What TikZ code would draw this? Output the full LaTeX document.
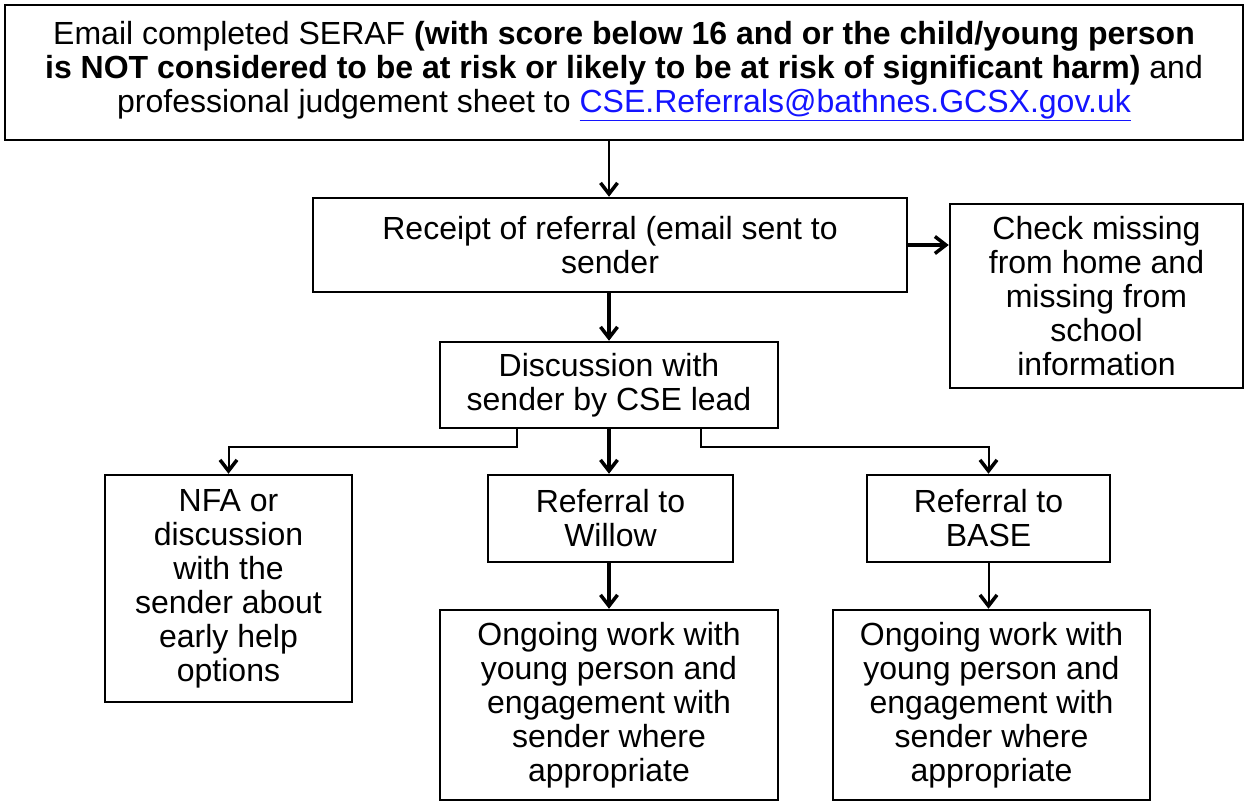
\documentclass[tikz,border=0pt]{standalone}
\usepackage{fontspec}
\setmainfont{Liberation Sans}
\usetikzlibrary{arrows.meta,calc}
\definecolor{linkblue}{RGB}{20,20,255}
\begin{document}
\begin{tikzpicture}[x=1pt,y=-1pt,
  box/.style={draw=black,line width=2.5pt,rectangle,align=center,inner sep=0pt,
    font=\fontsize{32}{34}\selectfont},
  thin/.style={line width=2pt,-{Straight Barb[length=11pt,width=17pt,line width=3.5pt]}},
  thick/.style={line width=4pt,-{Straight Barb[length=11pt,width=17pt,line width=3.5pt]}}]
\useasboundingbox (0,0) rectangle (1247,801);
\fill[white] (0,0) rectangle (1247,801);

\node[box,minimum width=1238pt,minimum height=135pt] (top) at (624,72.5)
 {Email completed SERAF \textbf{(with score below 16 and or the child/young person}\\
  \textbf{is NOT considered to be at risk or likely to be at risk of significant harm)} and\\
  professional judgement sheet to {\color{linkblue}\underline{CSE.Referrals@bathnes.GCSX.gov.uk}}\rule[-12pt]{0pt}{12pt}};

\node[box,minimum width=594pt,minimum height=94pt] (rec) at (610,245)
 {Receipt of referral (email sent to\\sender};

\node[box,minimum width=293pt,minimum height=184pt] (chk) at (1096.5,296)
 {Check missing\\from home and\\missing from\\school\\information};

\node[box,minimum width=338pt,minimum height=86pt] (disc) at (609,385)
 {Discussion with\\sender by CSE lead};

\node[box,minimum width=247pt,minimum height=227pt] (nfa) at (228.5,588.5)
 {NFA or\\discussion\\with the\\sender about\\early help\\options};

\node[box,minimum width=245pt,minimum height=87pt] (wil) at (610.5,518.5)
 {Referral to\\Willow};

\node[box,minimum width=243pt,minimum height=87pt] (base) at (988.5,518.5)
 {Referral to\\BASE};

\node[box,minimum width=338pt,minimum height=190pt] (ong1) at (609,705)
 {Ongoing work with\\young person and\\engagement with\\sender where\\appropriate};

\node[box,minimum width=317pt,minimum height=190pt] (ong2) at (991.5,705)
 {Ongoing work with\\young person and\\engagement with\\sender where\\appropriate};

\draw[thin] (disc.north |- top.south) -- (disc.north |- rec.north);
\draw[thick] (disc.north |- rec.south) -- (disc.north);
\draw[thick] (rec.east) -- (rec.east -| chk.west);
\draw[thick] (disc.south) -- (disc.south |- wil.north);
\draw[thin] ($(disc.south west)+(78,0)$) -- ++(0,18) -| (nfa.north);
\draw[thin] ($(disc.south east)+(-78,0)$) -- ++(0,18) -| (base.north);
\draw[thick] (disc.south |- wil.south) -- (disc.south |- ong1.north);
\draw[thin] (base.south) -- (base.south |- ong2.north);
\end{tikzpicture}
\end{document}
